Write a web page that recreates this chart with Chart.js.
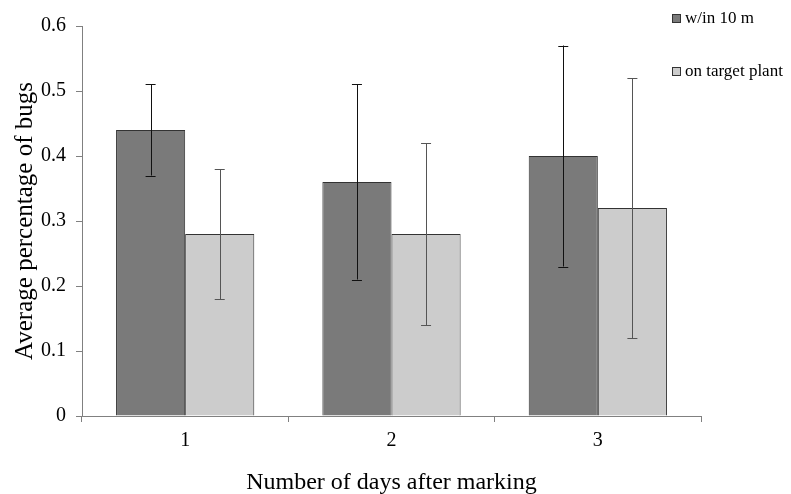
<!DOCTYPE html>
<html>
<head>
<meta charset="utf-8">
<script src="https://cdn.jsdelivr.net/npm/chart.js@4/dist/chart.umd.min.js"></script>
<style>
html,body{margin:0;padding:0;background:#fff;}
#wrap{position:relative;width:791px;height:494px;}
#legend{position:absolute;left:672px;top:0;font-family:"Liberation Serif","Times New Roman",serif;font-size:17px;color:#000;}
.li{position:absolute;white-space:nowrap;display:flex;align-items:center;line-height:20px;}
.sw{width:9px;height:9px;border:1px solid #333;margin-right:4px;box-sizing:border-box;}
</style>
</head>
<body>
<div id="wrap">
<canvas id="c" width="791" height="494"></canvas>
<div id="legend">
  <div class="li" style="top:8px;left:0"><span class="sw" style="background:#7a7a7a"></span>w/in 10 m</div>
  <div class="li" style="top:61px;left:0"><span class="sw" style="background:#cccccc"></span>on target plant</div>
</div>
</div>
<script>
const categories = ["1", "2", "3"];
const withinValues = [0.44, 0.36, 0.40];
const withinLow = [0.37, 0.21, 0.23];
const withinHigh = [0.51, 0.51, 0.57];
const targetValues = [0.28, 0.28, 0.32];
const targetLow = [0.18, 0.14, 0.12];
const targetHigh = [0.38, 0.42, 0.52];
const seriesNames = ["w/in 10 m", "on target plant"];

const errLow = [withinLow, targetLow];
const errHigh = [withinHigh, targetHigh];
const errColors = ["#111111", "#555555"];

const errorBars = {
  id: 'errorBars',
  afterDatasetsDraw(chart) {
    const ctx = chart.ctx;
    const ys = chart.scales.y;
    chart.data.datasets.forEach((ds, di) => {
      const meta = chart.getDatasetMeta(di);
      meta.data.forEach((el, i) => {
        const x = el.x;
        const yh = ys.getPixelForValue(errHigh[di][i]);
        const yl = ys.getPixelForValue(errLow[di][i]);
        ctx.save();
        ctx.strokeStyle = errColors[di];
        ctx.lineWidth = 1;
        ctx.beginPath();
        ctx.moveTo(Math.round(x) + 0.5, yh);
        ctx.lineTo(Math.round(x) + 0.5, yl);
        ctx.moveTo(x - 5, Math.round(yh) + 0.5);
        ctx.lineTo(x + 5, Math.round(yh) + 0.5);
        ctx.moveTo(x - 5, Math.round(yl) + 0.5);
        ctx.lineTo(x + 5, Math.round(yl) + 0.5);
        ctx.stroke();
        ctx.restore();
      });
    });
  }
};

const serif = "'Liberation Serif', 'Times New Roman', serif";

new Chart(document.getElementById('c'), {
  type: 'bar',
  data: {
    labels: categories,
    datasets: [
      { label: seriesNames[0], data: withinValues, backgroundColor: '#7a7a7a', borderColor: '#333333', borderWidth: 1 },
      { label: seriesNames[1], data: targetValues, backgroundColor: '#cccccc', borderColor: '#333333', borderWidth: 1 }
    ]
  },
  options: {
    responsive: false,
    animation: false,
    devicePixelRatio: 1,
    layout: { padding: { left: 0, right: 90, top: 26, bottom: 0 } },
    plugins: { legend: { display: false }, tooltip: { enabled: false } },
    datasets: { bar: { categoryPercentage: 0.67, barPercentage: 1.0 } },
    scales: {
      x: {
        offset: true,
        grid: { offset: true, drawOnChartArea: false, drawTicks: true, tickLength: 6, color: '#808080' },
        border: { color: '#808080', width: 1 },
        ticks: { font: { family: serif, size: 20 }, color: '#000', padding: 7 },
        title: { display: true, text: 'Number of days after marking', font: { family: serif, size: 24 }, color: '#000', padding: { top: 0, bottom: -3 } },
        afterFit(s) { s.height = 78; }
      },
      y: {
        min: 0, max: 0.6,
        grid: { drawOnChartArea: false, drawTicks: true, tickLength: 6, color: '#808080' },
        border: { color: '#808080', width: 1 },
        ticks: { stepSize: 0.1, font: { family: serif, size: 20 }, color: '#000', padding: 10,
          callback: v => (Math.round(v * 10) / 10).toString() },
        title: { display: true, text: 'Average percentage of bugs', font: { family: serif, size: 25 }, color: '#000', padding: { top: 10, bottom: 10 } },
        afterFit(s) { s.width = 82; }
      }
    }
  },
  plugins: [errorBars]
});
</script>
</body>
</html>
